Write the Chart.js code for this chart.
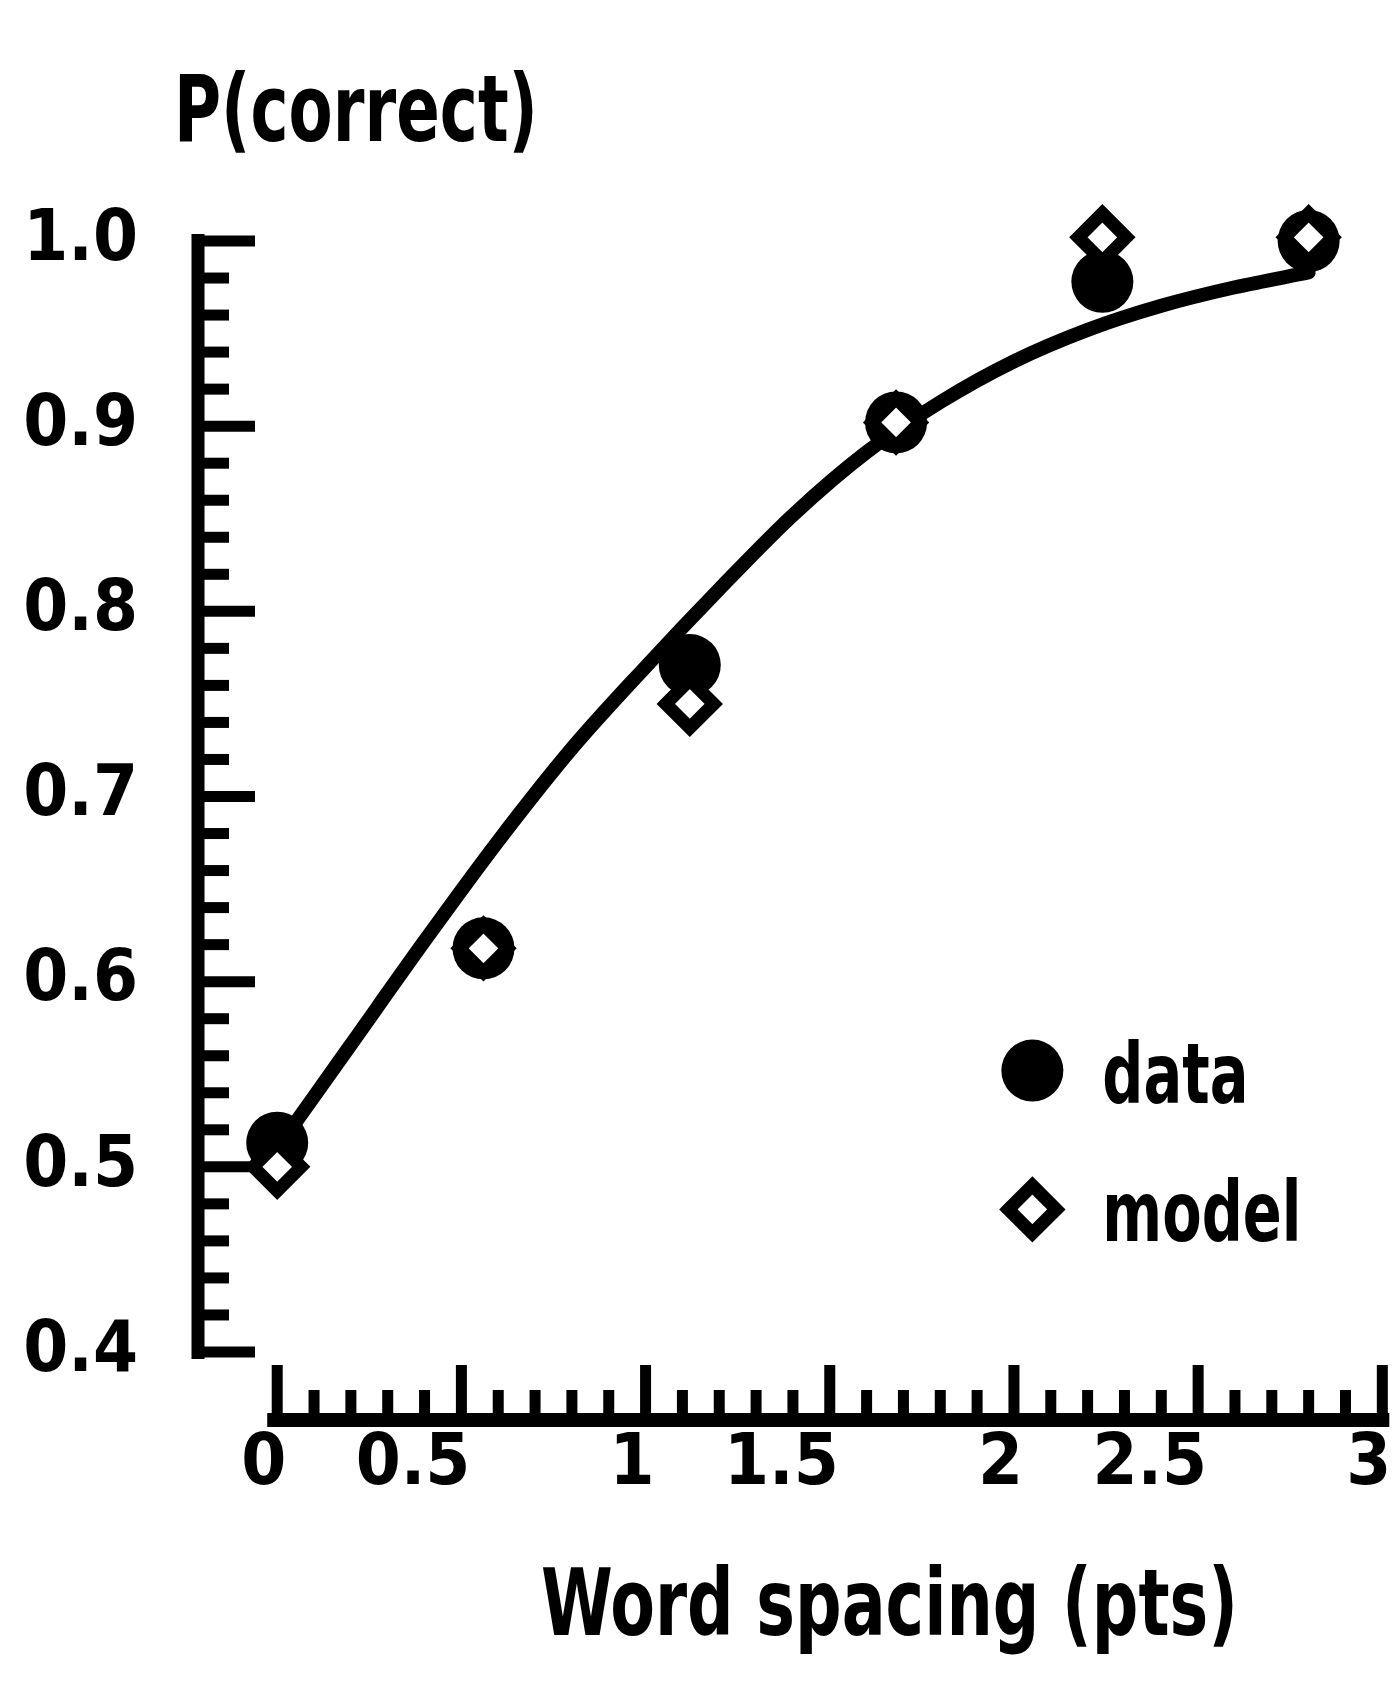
<!DOCTYPE html>
<html>
<head>
<meta charset="utf-8">
<script src="https://cdn.jsdelivr.net/npm/chart.js@4.4.1/dist/chart.umd.min.js"></script>
<style>
  html, body { margin: 0; padding: 0; background: #fff; overflow: hidden; }
  #wrap { width: 1400px; height: 1703px; }
  #chart { display: block; }
</style>
</head>
<body>
<div id="wrap"><canvas id="chart"></canvas></div>
<script>
// word spacing (pts) of the six conditions
const spacing = [0, 0.56, 1.12, 1.68, 2.24, 2.80];
const dataPc = [0.513, 0.618, 0.771, 0.902, 0.978, 1.0];
const modelPc = [0.500, 0.618, 0.750, 0.902, 1.002, 1.002];

// smooth fitted curve
const fitX = [0, 0.2, 0.4, 0.6, 0.8, 1.0, 1.2, 1.4, 1.6, 1.8, 2.0, 2.2, 2.4, 2.6, 2.8];
const fitY = [0.510, 0.566, 0.622, 0.676, 0.726, 0.770, 0.812, 0.852, 0.886, 0.913, 0.935, 0.952, 0.965, 0.975, 0.983];

const xTicks = [0, 0.5, 1, 1.5, 2, 2.5, 3];
const yTicks = [0.4, 0.5, 0.6, 0.7, 0.8, 0.9, 1.0];

const FONT = "'Liberation Sans Narrow', 'DejaVu Sans Condensed', 'Arial Narrow', sans-serif";

const toPoints = (xs, ys) => xs.map((v, i) => ({ x: v, y: ys[i] }));

// draw text squeezed horizontally (the original uses a condensed face)
function narrowText(ctx, text, x, y, sx) {
    ctx.save();
    ctx.translate(x, y);
    ctx.scale(sx, 1);
    ctx.fillText(text, 0, 0);
    ctx.restore();
}

// axis lines with minor/major tick marks, detached from the plot area like the original
const axesPlugin = {
    id: 'detachedAxes',
    beforeDatasetsDraw(chart) {
        const { ctx, chartArea, scales: { x, y } } = chart;
        const yLineX = chartArea.left - 70;
        const xLineY = chartArea.bottom + 68;
        ctx.save();
        ctx.strokeStyle = '#000';
        ctx.lineCap = 'butt';

        // y axis
        ctx.lineWidth = 13;
        ctx.beginPath();
        ctx.moveTo(yLineX, y.getPixelForValue(1.0) - 7);
        ctx.lineTo(yLineX, y.getPixelForValue(0.4) + 7);
        ctx.stroke();
        ctx.lineWidth = 11;
        for (let i = 0; i <= 30; i++) {
            const py = y.getPixelForValue(0.4 + i * 0.02);
            const len = i % 5 === 0 ? 57 : 31;
            ctx.beginPath();
            ctx.moveTo(yLineX, py);
            ctx.lineTo(yLineX + len, py);
            ctx.stroke();
        }

        // x axis
        ctx.lineWidth = 14;
        ctx.beginPath();
        ctx.moveTo(x.getPixelForValue(0) - 10, xLineY);
        ctx.lineTo(x.getPixelForValue(3) + 7, xLineY);
        ctx.stroke();
        ctx.lineWidth = 11;
        for (let i = 0; i <= 30; i++) {
            const px = x.getPixelForValue(i / 10);
            const len = i % 5 === 0 ? 55 : 30;
            ctx.beginPath();
            ctx.moveTo(px, xLineY);
            ctx.lineTo(px, xLineY - len);
            ctx.stroke();
        }

        // axis titles
        ctx.fillStyle = '#000';
        ctx.font = 'bold 92px ' + FONT;
        ctx.textAlign = 'left';
        ctx.textBaseline = 'alphabetic';
        narrowText(ctx, 'P(correct)', 174, 141, 364 / ctx.measureText('P(correct)').width);
        narrowText(ctx, 'Word spacing (pts)', 541, 1635, 697 / ctx.measureText('Word spacing (pts)').width);
        ctx.restore();
    },
    afterDatasetsDraw(chart) {
        // legend inside the plot, lower right
        const { ctx, scales: { x, y } } = chart;
        const lx = x.getPixelForValue(2.05);
        const rows = [
            { label: 'data', py: y.getPixelForValue(0.552), ds: chart.data.datasets[1] },
            { label: 'model', py: y.getPixelForValue(0.477), ds: chart.data.datasets[0] }
        ];
        ctx.save();
        rows.forEach(r => {
            ctx.fillStyle = r.ds.pointBackgroundColor;
            ctx.strokeStyle = r.ds.pointBorderColor || '#000';
            ctx.lineWidth = r.ds.pointBorderWidth;
            Chart.helpers.drawPoint(ctx, {
                pointStyle: r.ds.pointStyle,
                radius: r.ds.pointRadius,
                borderWidth: r.ds.pointBorderWidth,
                rotation: 0
            }, lx, r.py);
            ctx.fillStyle = '#000';
            ctx.font = 'bold 84px ' + FONT;
            ctx.textAlign = 'left';
            ctx.textBaseline = 'alphabetic';
            narrowText(ctx, r.label, lx + 70, r.py + 32, 0.76);
        });
        ctx.restore();
    }
};

const tickFont = { family: FONT, size: 72, weight: 'bold', lineHeight: 1.2 };

new Chart(document.getElementById('chart'), {
    type: 'scatter',
    data: {
        datasets: [
            {
                label: 'model', data: toPoints(spacing, modelPc),
                pointStyle: 'rectRot', pointRadius: 24,
                pointBackgroundColor: '#fff', pointBorderColor: '#000', pointBorderWidth: 13,
                order: 0, clip: false
            },
            {
                label: 'data', data: toPoints(spacing, dataPc),
                pointStyle: 'circle', pointRadius: 31,
                pointBackgroundColor: '#000', pointBorderColor: '#000', pointBorderWidth: 0,
                order: 1, clip: false
            },
            {
                label: 'fit', type: 'line', data: toPoints(fitX, fitY),
                borderColor: '#000', borderWidth: 14, pointRadius: 0,
                cubicInterpolationMode: 'monotone', borderCapStyle: 'round',
                fill: false, order: 2, clip: false
            }
        ]
    },
    options: {
        responsive: true,
        maintainAspectRatio: false,
        animation: false,
        events: [],
        layout: { autoPadding: false, padding: { left: 0, right: 14, top: 241, bottom: 0 } },
        plugins: { legend: { display: false }, tooltip: { enabled: false } },
        scales: {
            x: {
                type: 'linear', min: -0.025, max: 3.01,
                grid: { display: false, drawTicks: false },
                border: { display: false },
                afterBuildTicks: s => { s.ticks = xTicks.map(v => ({ value: v })); },
                afterFit: s => { s.height = 351; s.paddingLeft = 0; s.paddingRight = 0; },
                ticks: {
                    align: 'end', labelOffset: 9, padding: 70, color: '#000',
                    font: tickFont, maxRotation: 0, autoSkip: false,
                    callback: v => String(v)
                }
            },
            y: {
                type: 'linear', min: 0.4, max: 1.0,
                grid: { display: false, drawTicks: false },
                border: { display: false },
                afterBuildTicks: s => { s.ticks = yTicks.map(v => ({ value: v })); },
                afterFit: s => { s.width = 268; s.paddingTop = 0; s.paddingBottom = 0; },
                ticks: {
                    padding: 130, color: '#000', font: tickFont,
                    callback: v => v.toFixed(1)
                }
            }
        }
    },
    plugins: [axesPlugin]
});
</script>
</body>
</html>
